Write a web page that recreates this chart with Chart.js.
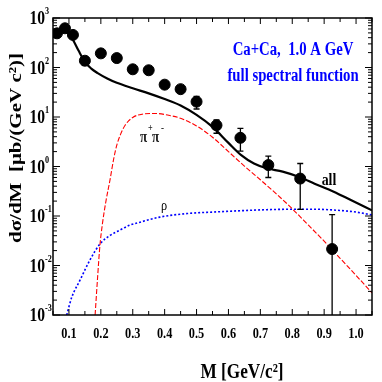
<!DOCTYPE html>
<html>
<head>
<meta charset="utf-8">
<script src="https://cdn.jsdelivr.net/npm/chart.js@4/dist/chart.umd.min.js"></script>
<style>
  html, body { margin: 0; padding: 0; background: #fff; }
  #wrap { width: 382px; height: 382px; }
</style>
</head>
<body>
<div id="wrap"><canvas id="chart" width="382" height="382"></canvas></div>
<script>
// measured dilepton spectrum (points) and model curves
const massPts = [0.0625, 0.0875, 0.1125, 0.15, 0.2, 0.25, 0.3, 0.35, 0.4, 0.45, 0.5, 0.5625, 0.6375, 0.725, 0.825, 0.925];
const xsecPts = [490, 620, 455, 137, 193, 155, 92, 88, 45, 36.5, 20.4, 6.8, 3.8, 1.07, 0.57, 0.0215];
const errLo = [null, null, null, 110, null, null, null, null, null, null, 14.5, 4.7, 2.04, 0.6, 0.136, 0.0003];
const errHi = [null, null, null, 165, null, null, null, null, null, null, 26, 8.7, 5.9, 1.62, 1.15, 0.107];

const allM = [0.05, 0.07, 0.088, 0.1, 0.115, 0.13, 0.15, 0.17, 0.19, 0.22, 0.25, 0.3, 0.35, 0.4, 0.45, 0.5, 0.55, 0.6, 0.64, 0.68, 0.72, 0.77, 0.82, 0.87, 0.93, 0.99, 1.05];
const allY = [470, 530, 550, 480, 340, 220, 130, 95, 77, 60, 49, 38, 30, 23, 17, 11, 6.3, 3.0, 1.7, 1.15, 0.92, 0.79, 0.62, 0.45, 0.31, 0.2, 0.13];

const pipiM = [0.182, 0.19, 0.197, 0.205, 0.216, 0.229, 0.24, 0.25, 0.262, 0.276, 0.3, 0.33, 0.37, 0.42, 0.45, 0.5, 0.55, 0.6, 0.65, 0.7, 0.75, 0.8, 0.85, 0.9, 0.95, 1.0, 1.05];
const pipiY = [0.001, 0.006, 0.025, 0.07, 0.2, 0.55, 1.4, 2.7, 4.5, 6.8, 9.8, 11.4, 11.8, 10.6, 9.4, 6.6, 3.9, 2.0, 1.02, 0.54, 0.28, 0.14, 0.066, 0.031, 0.014, 0.0063, 0.0028];

const rhoM = [0.093, 0.109, 0.135, 0.166, 0.197, 0.23, 0.26, 0.29, 0.323, 0.385, 0.47, 0.55, 0.64, 0.72, 0.8, 0.87, 0.93, 1.0, 1.05];
const rhoY = [0.001, 0.0023, 0.0051, 0.013, 0.027, 0.041, 0.052, 0.065, 0.075, 0.095, 0.112, 0.12, 0.128, 0.134, 0.137, 0.137, 0.132, 0.12, 0.105];

const xTicks = [0.1, 0.2, 0.3, 0.4, 0.5, 0.6, 0.7, 0.8, 0.9, 1.0];
const yExps = [-3, -2, -1, 0, 1, 2, 3];

const SX = 0.82; // the original figure is squeezed horizontally
const SERIF = '"Liberation Serif", "DejaVu Serif", serif';

function pairs(xs, ys) {
  return xs.map((x, i) => ({ x: x, y: ys[i] }));
}

function txt(ctx, s, x, y, font, color, align, base) {
  ctx.save();
  ctx.translate(x, y);
  ctx.scale(SX, 1);
  ctx.font = font;
  ctx.fillStyle = color;
  ctx.textAlign = align || "center";
  ctx.textBaseline = base || "alphabetic";
  ctx.fillText(s, 0, 0);
  ctx.restore();
}

const errorBars = {
  id: "errorBars",
  afterDatasetsDraw(chart) {
    const { ctx, scales, chartArea } = chart;
    ctx.save();
    ctx.strokeStyle = "#000";
    ctx.lineWidth = 1.3;
    massPts.forEach((m, i) => {
      if (errLo[i] == null) return;
      const x = scales.x.getPixelForValue(m);
      const yTop = scales.y.getPixelForValue(errHi[i]);
      const yBotRaw = scales.y.getPixelForValue(Math.max(errLo[i], 1e-3));
      const yBot = Math.min(yBotRaw, chartArea.bottom);
      ctx.beginPath();
      ctx.moveTo(x, yTop);
      ctx.lineTo(x, yBot);
      ctx.moveTo(x - 3, yTop);
      ctx.lineTo(x + 3, yTop);
      if (errLo[i] > 1e-3) {
        ctx.moveTo(x - 3, yBot);
        ctx.lineTo(x + 3, yBot);
      }
      ctx.stroke();
    });
    ctx.restore();
  }
};

const frameAndText = {
  id: "frameAndText",
  afterDraw(chart) {
    const { ctx, scales, chartArea: a } = chart;
    const xs = scales.x, ys = scales.y;
    ctx.save();
    ctx.strokeStyle = "#000";
    ctx.lineWidth = 1.5;
    ctx.strokeRect(a.left, a.top, a.right - a.left, a.bottom - a.top);

    // x ticks every 0.05, inside, bottom and top
    ctx.lineWidth = 1;
    ctx.beginPath();
    for (let k = 1; k <= 21; k++) {
      const v = k * 0.05;
      if (v > 1.05) break;
      const px = xs.getPixelForValue(v);
      const len = k % 2 === 0 ? 6 : 4;
      ctx.moveTo(px, a.bottom);
      ctx.lineTo(px, a.bottom - len);
      ctx.moveTo(px, a.top);
      ctx.lineTo(px, a.top + len);
    }
    // y log ticks, left and right
    for (let e = -3; e <= 3; e++) {
      for (let k = 1; k <= 9; k++) {
        if (e === 3 && k > 1) break;
        const py = ys.getPixelForValue(k * Math.pow(10, e));
        const len = k === 1 ? 7 : 4;
        ctx.moveTo(a.left, py);
        ctx.lineTo(a.left + len, py);
        ctx.moveTo(a.right, py);
        ctx.lineTo(a.right - len, py);
      }
    }
    ctx.stroke();

    // tick labels
    xTicks.forEach(v => {
      txt(ctx, v.toFixed(1), xs.getPixelForValue(v), 338, "bold 15px " + SERIF, "#000");
    });
    yExps.forEach(e => {
      const py = ys.getPixelForValue(Math.pow(10, e));
      txt(ctx, "10", 45, py + 6, "bold 19px " + SERIF, "#000", "right");
      txt(ctx, String(e), 45, py - 4, "bold 10px " + SERIF, "#000", "left");
    });

    // axis titles
    txt(ctx, "M [GeV/c²]", 242, 378, "bold 21px " + SERIF, "#000");
    ctx.save();
    ctx.translate(17, 148);
    ctx.scale(SX, 1);
    ctx.rotate(-Math.PI / 2);
    ctx.font = "bold 21px " + SERIF;
    ctx.fillStyle = "#000";
    ctx.textAlign = "center";
    ctx.textBaseline = "middle";
    ctx.fillText("dσ/dM  [μb/(GeV c²)]", 0, 0);
    ctx.restore();

    // annotations
    txt(ctx, "Ca+Ca,  1.0 A GeV", 293, 55, "bold 18px " + SERIF, "#0000ff");
    txt(ctx, "full spectral function", 293, 81, "bold 18px " + SERIF, "#0000ff");
    txt(ctx, "all", 329, 185, "bold 17px " + SERIF, "#000");
    txt(ctx, "π", 140, 142, "bold 16px " + SERIF, "#222", "left");
    txt(ctx, "+", 148, 131, "bold 10px " + SERIF, "#222", "left");
    txt(ctx, "π", 152, 142, "bold 16px " + SERIF, "#222", "left");
    txt(ctx, "-", 161, 131, "bold 11px " + SERIF, "#222", "left");
    txt(ctx, "ρ", 164, 210, "15px " + SERIF, "#000");
    ctx.restore();
  }
};

new Chart(document.getElementById("chart"), {
  type: "line",
  data: {
    datasets: [
      {
        type: "scatter",
        data: pairs(massPts, xsecPts),
        backgroundColor: "#000",
        borderColor: "#000",
        pointRadius: 5.5,
        pointStyle: "circle",
        showLine: false,
        order: 0,
      },
      {
        data: pairs(allM, allY),
        borderColor: "#000",
        borderWidth: 2.2,
        pointRadius: 0,
        cubicInterpolationMode: "monotone",
        order: 1,
      },
      {
        data: pairs(pipiM, pipiY),
        borderColor: "#ff0000",
        borderWidth: 1.1,
        borderDash: [5, 2],
        pointRadius: 0,
        cubicInterpolationMode: "monotone",
        order: 2,
      },
      {
        data: pairs(rhoM, rhoY),
        borderColor: "#0000ff",
        borderWidth: 1.6,
        borderDash: [2, 2],
        pointRadius: 0,
        cubicInterpolationMode: "monotone",
        order: 3,
      },
    ],
  },
  options: {
    responsive: false,
    animation: false,
    events: [],
    layout: { padding: { left: 53, top: 18, right: 10, bottom: 67 } },
    plugins: {
      legend: { display: false },
      tooltip: { enabled: false },
    },
    scales: {
      x: { type: "linear", min: 0.05, max: 1.05, display: false },
      y: { type: "logarithmic", min: 1e-3, max: 1e3, display: false },
    },
  },
  plugins: [errorBars, frameAndText],
});
</script>
</body>
</html>
